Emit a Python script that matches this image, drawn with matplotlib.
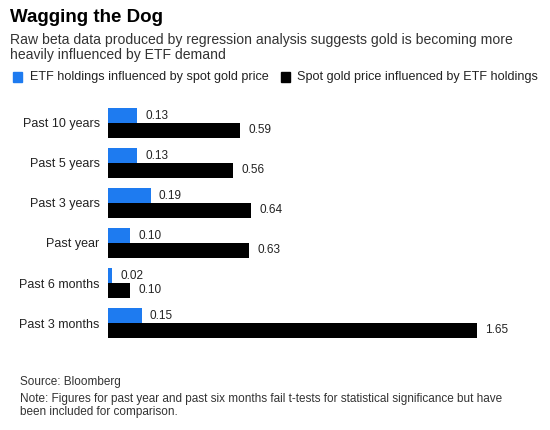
import matplotlib.pyplot as plt
import numpy as np

plt.rcParams["font.family"] = ["Liberation Sans", "DejaVu Sans"]

categories = ["Past 10 years", "Past 5 years", "Past 3 years", "Past year", "Past 6 months", "Past 3 months"]
etf_by_gold = [0.13, 0.13, 0.19, 0.10, 0.02, 0.15]
gold_by_etf = [0.59, 0.56, 0.64, 0.63, 0.10, 1.65]

BLUE = "#1e7bf0"
BLACK = "#000000"

W, H = 550, 430
fig = plt.figure(figsize=(W / 100, H / 100), dpi=100)


def fx(px):
    return px / W


def fy(py):
    return 1 - py / H


ax = fig.add_axes([fx(108), fy(343), fx(425), (343 - 103) / H])
y = np.arange(len(categories))
bh = 0.37
ax.barh(y - bh / 2, etf_by_gold, height=bh, color=BLUE)
ax.barh(y + bh / 2, gold_by_etf, height=bh, color=BLACK)

for yi, v in zip(y, etf_by_gold):
    ax.annotate(f"{v:.2f}", (v, yi - bh / 2), xytext=(6, 0), textcoords="offset points",
                va="center", ha="left", fontsize=8.5, color="#222222")
for yi, v in zip(y, gold_by_etf):
    ax.annotate(f"{v:.2f}", (v, yi + bh / 2), xytext=(6, 0), textcoords="offset points",
                va="center", ha="left", fontsize=8.5, color="#222222")

ax.set_xlim(0, 1.9)
ax.set_ylim(len(categories) - 0.5, -0.5)
ax.set_yticks(y)
ax.set_yticklabels(categories, fontsize=9, color="#222222")
ax.tick_params(axis="y", length=0, pad=6)
ax.set_xticks([])
for s in ax.spines.values():
    s.set_visible(False)

# header
fig.text(fx(10), fy(18), "Wagging the Dog", fontsize=13.5, fontweight="bold", va="center", ha="left")
fig.text(fx(10), fy(40), "Raw beta data produced by regression analysis suggests gold is becoming more",
         fontsize=10.1, color="#333333", va="center", ha="left")
fig.text(fx(10), fy(55), "heavily influenced by ETF demand",
         fontsize=10.1, color="#333333", va="center", ha="left")

# legend
fig.patches.append(plt.Rectangle((fx(13), fy(82)), fx(9), 10 / H, color=BLUE, transform=fig.transFigure))
fig.text(fx(30), fy(77), "ETF holdings influenced by spot gold price", fontsize=9.1, color="#222222",
         va="center", ha="left")
fig.patches.append(plt.Rectangle((fx(281), fy(82)), fx(9), 10 / H, color=BLACK, transform=fig.transFigure))
fig.text(fx(297), fy(77), "Spot gold price influenced by ETF holdings", fontsize=9.1, color="#222222",
         va="center", ha="left")

# footer
fig.text(fx(20), fy(382), "Source: Bloomberg", fontsize=8.5, color="#333333", va="center", ha="left")
fig.text(fx(20), fy(399), "Note: Figures for past year and past six months fail t-tests for statistical significance but have",
         fontsize=8.5, color="#333333", va="center", ha="left")
fig.text(fx(20), fy(412), "been included for comparison.", fontsize=8.5, color="#333333", va="center", ha="left")

fig.savefig("out.png", dpi=100)
